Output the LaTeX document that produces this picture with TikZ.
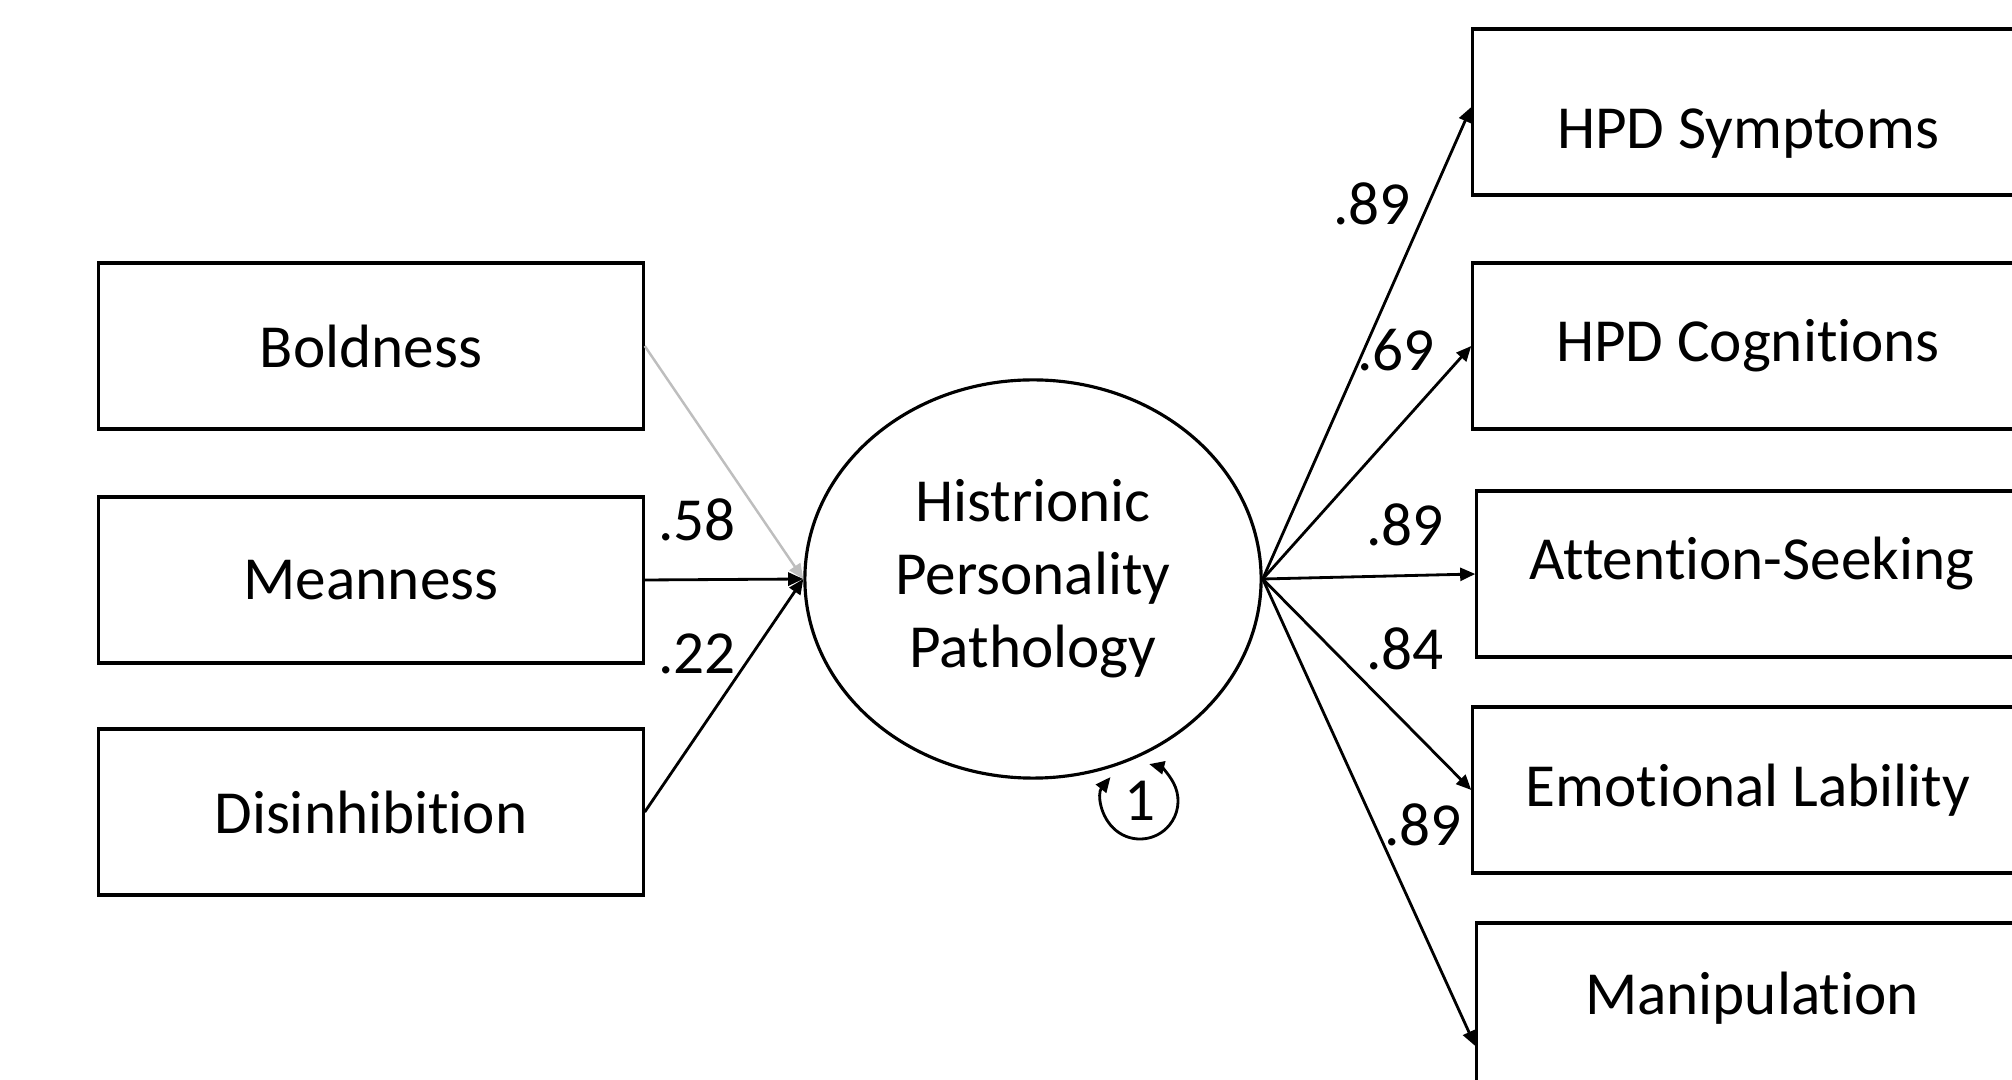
\documentclass[tikz,border=0pt]{standalone}
\usepackage{fontspec}
\setmainfont{Carlito}[Ligatures={NoCommon,NoContextual,NoRare}]
\usepackage{xcolor}
\usepackage{tikz}
\definecolor{pathgray}{RGB}{190, 190, 190}
\usetikzlibrary{shapes.geometric, arrows.meta, positioning, calc}

\tikzset{
    measure/.style={draw=black, line width=0.9pt, minimum width=5.44cm, minimum height=1.66cm, inner sep=0pt},
    latent/.style={draw=black, line width=0.9pt, ellipse, minimum width=4.56cm, minimum height=3.98cm, align=center, inner sep=0pt},
    path arrow/.style={line width=0.8pt, -{Triangle[length=4.3pt, width=3.7pt]}},
    coef/.style={inner sep=0pt}
}
\newcommand{\shifttext}[2]{\raisebox{#1}[\height][\depth]{#2}}
\newcommand{\nolig}{\kern0pt}

\begin{document}
\begin{tikzpicture}[x=0.01cm, y=-0.01cm, font=\fontsize{17.4}{20.8}\selectfont]
        \useasboundingbox (0,0) rectangle (2012,1080);

        % predictors
        \node[measure] (bold) at (371,346) {Boldness};
        \node[measure] (mean) at (371,580) {Meanness};
        \node[measure] (disinh) at (371,812) {Disinhibit\nolig ion};

        % latent factor
        \node[latent] (hpp) at (1033,579) {Histrionic\\Personality\\Pathology};

        % indicators
        \node[measure, minimum width=5.5cm] (sym) at (1748,112) {\shifttext{-0.22cm}{HPD Symptoms}};
        \node[measure, minimum width=5.5cm] (cogn) at (1748,346) {HPD Cognit\nolig ions};
        \node[measure, minimum width=5.5cm] (attn) at (1752,574) {\shifttext{0.1cm}{Attent\nolig ion-Seeking}};
        \node[measure, minimum width=5.5cm] (emot) at (1748,790) {Emotional Lability};
        \node[measure, minimum width=5.5cm] (manip) at (1752,1006) {\shifttext{0.08cm}{Manipulation}};

        % regression paths
        \draw[path arrow, draw=pathgray, line width=0.7pt, -{Triangle[length=4.3pt, width=3.7pt, fill=pathgray]}] (bold.east) -- (hpp.west);
        \draw[path arrow] (mean.east) -- (hpp.west);
        \draw[path arrow] (disinh.east) -- (hpp.west);

        % loadings
        \draw[path arrow] (hpp.east) -- ([yshift=0.05cm]sym.west);
        \draw[path arrow] (hpp.east) -- (cogn.west);
        \draw[path arrow] (hpp.east) -- (attn.west);
        \draw[path arrow] (hpp.east) -- (emot.west);
        \draw[path arrow] (hpp.east) -- ([yshift=-0.4cm]manip.west);

        % coefficients
        \node[coef] (c58) at (697,520) {.58};
        \node[coef] (c22) at (697,654) {.22};
        \node[coef] (c89a) at (1372,204) {.89};
        \node[coef] (c69) at (1396,350) {.69};
        \node[coef] (c89b) at (1405,525) {.89};
        \node[coef] (c84) at (1405,649) {.84};
        \node[coef] (c89c) at (1423,825) {.89};

        % factor variance
        \node[coef] (var) at (1140,801) {1};
        \draw[line width=0.8pt, {Triangle[length=4.3pt, width=3.7pt]}-{Triangle[length=4.3pt, width=3.7pt]}]
            ([shift={(141:0.38cm)}]var.center) arc[start angle=141, end angle=436, radius=0.38cm];
    \end{tikzpicture}
\end{document}
